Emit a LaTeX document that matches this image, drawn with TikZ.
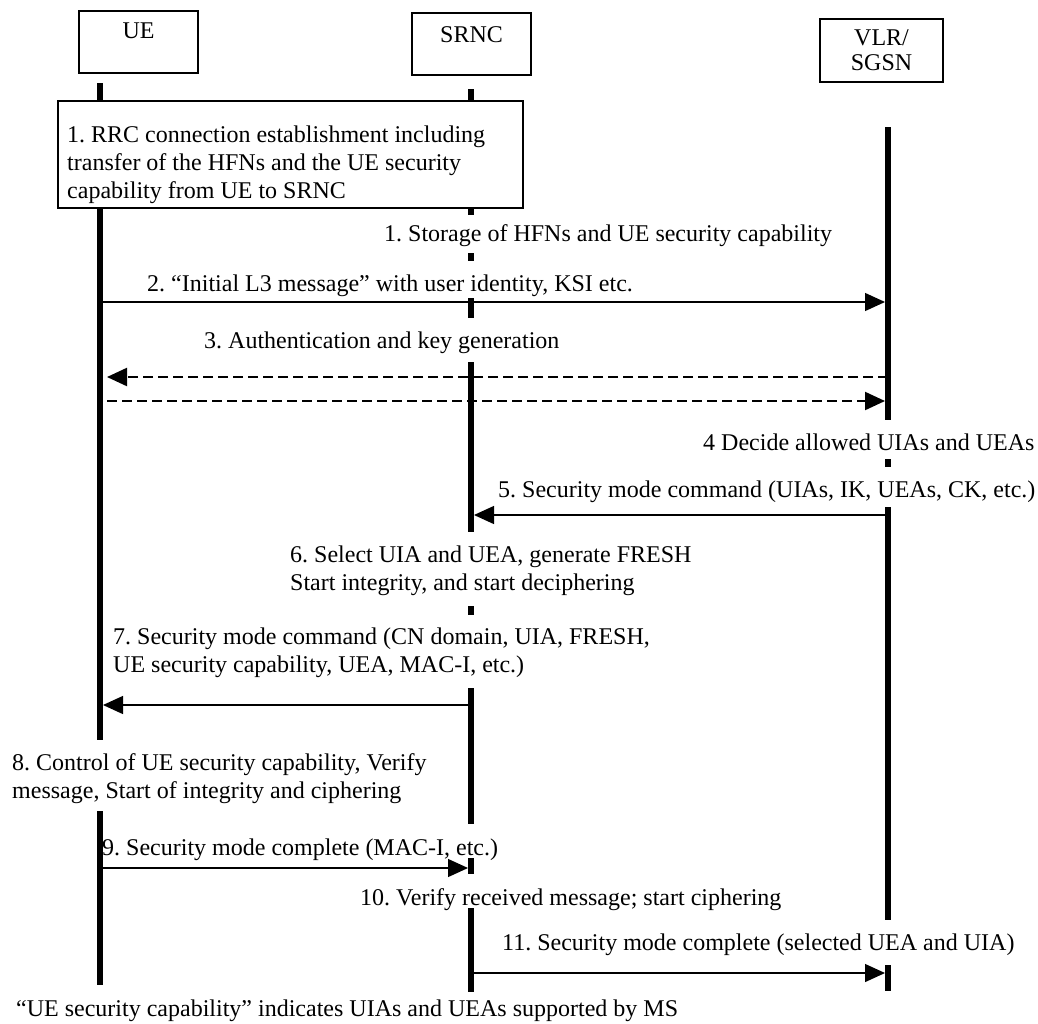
\documentclass[tikz,border=0pt]{standalone}
\usepackage{fontspec}
\setmainfont{Liberation Serif}
\frenchspacing
\usetikzlibrary{arrows.meta,positioning}
\tikzset{
    %Define standard arrow tip
    >={Triangle[length=20pt,width=18pt]},
    %Define style for boxes
    entity/.style={
           rectangle,
           draw=black, line width=1.5pt,
           inner sep=0pt,
           minimum width=119pt,
           font=\fontsize{24}{28}\selectfont,
           text centered},
    procbox/.style={
           rectangle,
           draw=black, line width=1.5pt,
           fill=white,
           inner sep=0pt},
    note/.style={
           inner sep=0pt,
           anchor=base west,
           align=left,
           font=\fontsize{24}{28}\selectfont},
    % Define lifeline style
    lifeline/.style={line width=5.5pt},
    % Define arrow style
    msg/.style={
           ->,
           line width=1.3pt,
           shorten >=3pt},
    dmsg/.style={
           msg,
           line width=2.2pt,
           dash pattern=on 10pt off 5pt}
}
\begin{document}
\begin{tikzpicture}[x=1pt,y=-1pt]
\useasboundingbox (0,0) rectangle (1038,1023);
% entities
\node[entity, text height=27pt, text depth=35pt, anchor=base](ue) at (138.5,38){UE};
\node[entity, text height=29pt, text depth=33pt, anchor=base](srnc) at (471.5,42){SRNC};
\node[entity, minimum width=123pt, minimum height=63pt, align=center](vlr) at (881.5,50.5){\raisebox{-3pt}{VLR/}\\SGSN};

% lifelines
\coordinate (ueL) at (100,0);
\coordinate (srncL) at (471,0);
\coordinate (vlrL) at (888,0);
\foreach \a/\b in {83/740,811/985}
    \draw[lifeline] (ueL |- 0,\a) -- (ueL |- 0,\b);
\foreach \a/\b in {89/215,253/261,298/318,362/532,606/615,688/824,858/874,908/992}
    \draw[lifeline] (srncL |- 0,\a) -- (srncL |- 0,\b);
\foreach \a/\b in {127/420,459/467,507/920,965/991}
    \draw[lifeline] (vlrL |- 0,\a) -- (vlrL |- 0,\b);

\node[procbox, minimum width=465pt, minimum height=107pt, anchor=north west](rrc) at (57,100){};

% texts (multi-line notes sit on their last line)
\node[note](t1) at (67,198){1. RRC connection establishment including\\transfer of the HFNs and the UE security\\capability from UE to SRNC};
\node[note](t1b) at (384,241){1. Storage of HFNs and UE security capability};
\node[note](t2) at (147,291){2. “Initial L3 message” with user identity, KSI etc.};
\node[note](t3) at (204,348){3. Authentication and key generation};
\node[note](t4) at (703,450){4 Decide allowed UIAs and UEAs};
\node[note](t5) at (498,497){5. Security mode command (UIAs, IK, UEAs, CK, etc.)};
\node[note](t6) at (290,590){6. Select UIA and UEA, generate FRESH\\Start integrity, and start deciphering};
\node[note](t7) at (113,672){7. Security mode command (CN domain, UIA, FRESH,\\UE security capability, UEA, MAC-I, etc.)};
\node[note](t8) at (12,798){8. Control of UE security capability, Verify\\message, Start of integrity and ciphering};
\node[note](t9) at (102,855){9. Security mode complete (MAC-I, etc.)};
\node[note](t10) at (360,905){10. Verify received message; start ciphering};
\node[note](t11) at (502,950){11. Security mode complete (selected UEA and UIA)};
\node[note](foot) at (16,1016){“UE security capability” indicates UIAs and UEAs supported by MS};

% messages
\draw[msg] (ueL |- 0,302) -- (vlrL |- 0,302);
\draw[dmsg, shorten >=7pt] (vlrL |- 0,377) -- (ueL |- 0,377);
\draw[dmsg, shorten <=7pt] (ueL |- 0,401) -- (vlrL |- 0,401);
\draw[msg] (vlrL |- 0,515) -- (srncL |- 0,515);
\draw[msg] (srncL |- 0,705) -- (ueL |- 0,705);
\draw[msg] (ueL |- 0,868) -- (srncL |- 0,868);
\draw[msg] (srncL |- 0,973) -- (vlrL |- 0,973);
\end{tikzpicture}
\end{document}
